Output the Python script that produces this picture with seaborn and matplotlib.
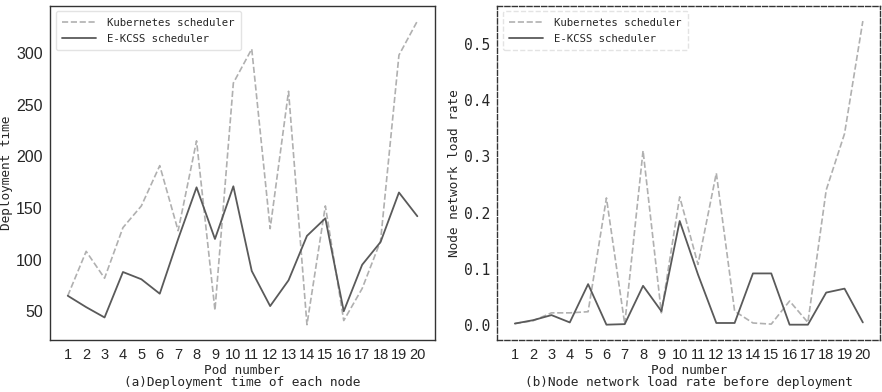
import matplotlib
matplotlib.use("Agg")
import matplotlib.pyplot as plt
import seaborn as sns

pods = list(range(1, 21))

# (a) deployment time
k8s_time = [65, 108, 82, 131, 152, 191, 128, 215, 51, 271,
            304, 130, 263, 37, 152, 41, 72, 118, 298, 331]
ekcss_time = [65, 54, 44, 88, 81, 67, 120, 170, 120, 171,
              89, 55, 80, 123, 140, 50, 95, 117, 165, 142]

# (b) node network load rate
k8s_load = [0.003, 0.008, 0.022, 0.022, 0.024, 0.226, 0.002, 0.310, 0.022, 0.228,
            0.108, 0.270, 0.025, 0.004, 0.002, 0.043, 0.005, 0.240, 0.340, 0.540]
ekcss_load = [0.003, 0.009, 0.018, 0.005, 0.073, 0.001, 0.002, 0.070, 0.025, 0.185,
              0.090, 0.004, 0.004, 0.092, 0.092, 0.001, 0.001, 0.058, 0.065, 0.005]

names = ["Kubernetes scheduler", "E-KCSS scheduler"]

sns.set_style("white")
plt.rcParams["font.family"] = ["DejaVu Sans Mono", "DejaVu Sans"]

fig = plt.figure(figsize=(8.82, 3.92), dpi=100)
ax1 = fig.add_axes([0.057, 0.133, 0.436, 0.852])
ax2 = fig.add_axes([0.564, 0.133, 0.434, 0.852])

mono = "DejaVu Sans Mono"
sans = ["Liberation Sans", "DejaVu Sans"]

def draw(ax, k8s, ekcss, ylabel, caption):
    sns.lineplot(x=pods, y=k8s, ax=ax, color="#b0b0b0", linestyle="--",
                 linewidth=1.2, label=names[0])
    sns.lineplot(x=pods, y=ekcss, ax=ax, color="#5a5a5a", linestyle="-",
                 linewidth=1.3, label=names[1])
    ax.set_xticks(pods)
    ax.set_xlabel("Pod number\n" + caption, fontsize=9.2, family=mono,
                  linespacing=0.9, labelpad=2)
    ax.set_ylabel(ylabel, fontsize=9.2, family=mono, labelpad=2)
    ax.tick_params(axis="both", length=3.5, pad=2)
    for t in ax.get_xticklabels():
        t.set_family(sans)
        t.set_fontsize(10.5)
    leg = ax.legend(loc="upper left", frameon=True,
                    prop={"family": mono, "size": 7.7}, borderpad=0.6,
                    handlelength=3.2, labelspacing=0.6, handletextpad=1.0)
    leg.get_frame().set_edgecolor("#dddddd")
    for s in ax.spines.values():
        s.set_color("#333333")
        s.set_linewidth(1.0)
    return leg

draw(ax1, k8s_time, ekcss_time, "Deployment time",
     "(a)Deployment time of each node")
leg2 = draw(ax2, k8s_load, ekcss_load, "Node network load rate",
            "(b)Node network load rate before deployment")

for t in ax1.get_yticklabels():
    t.set_family(sans)
    t.set_fontsize(11.5)
for t in ax2.get_yticklabels():
    t.set_family(mono)
    t.set_fontsize(10.5)
for s in ax2.spines.values():
    s.set_linestyle("--")
leg2.get_frame().set_linestyle("--")

fig.savefig("out.png", dpi=100)
